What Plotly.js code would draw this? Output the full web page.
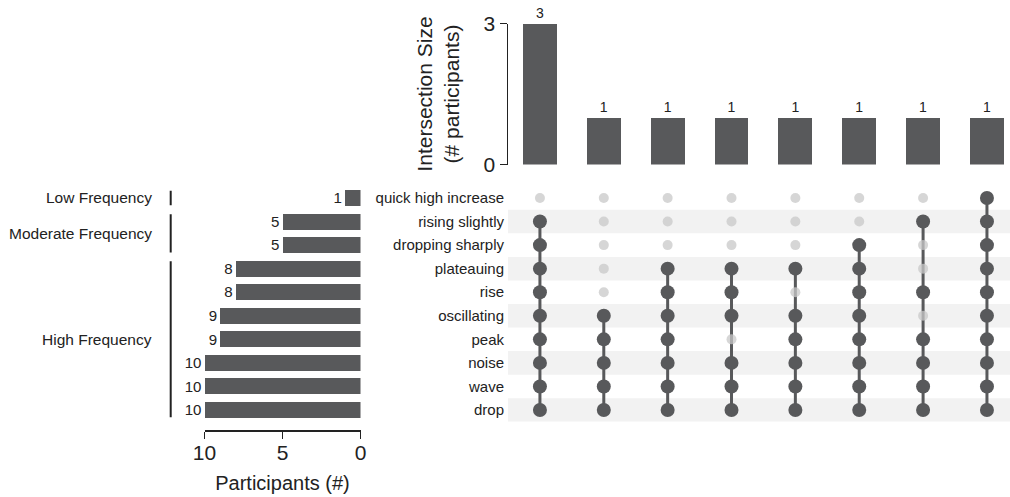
<!DOCTYPE html>
<html>
<head>
<meta charset="utf-8">
<script src="https://cdn.plot.ly/plotly-3.0.1.min.js"></script>
<style>html,body{margin:0;padding:0;background:#fff;}#chart{width:1010px;height:497px;}</style>
</head>
<body>
<div id="chart"></div>
<script>
// ---- data ----
const setNames = ['quick high increase','rising slightly','dropping sharply','plateauing','rise','oscillating','peak','noise','wave','drop'];
const setSizes = [1,5,5,8,8,9,9,10,10,10];
const intersectionSizes = [3,1,1,1,1,1,1,1];
const intersectionMembers = [
  ['rising slightly','dropping sharply','plateauing','rise','oscillating','peak','noise','wave','drop'],
  ['oscillating','peak','noise','wave','drop'],
  ['plateauing','rise','oscillating','peak','noise','wave','drop'],
  ['plateauing','rise','oscillating','noise','wave','drop'],
  ['plateauing','oscillating','peak','noise','wave','drop'],
  ['dropping sharply','plateauing','rise','oscillating','peak','noise','wave','drop'],
  ['rising slightly','rise','peak','noise','wave','drop'],
  ['quick high increase','rising slightly','dropping sharply','plateauing','rise','oscillating','peak','noise','wave','drop']
];
const groupNames = ['Low Frequency','Moderate Frequency','High Frequency'];
const groupFirst = ['quick high increase','rising slightly','plateauing'];
const groupLast = ['quick high increase','dropping sharply','drop'];

// ---- styling ----
const DARK = '#58595b';
const TXT = '#222';
const FONT = 'Liberation Sans, Arial, Helvetica, sans-serif';
const W = 1010, H = 497;
const px = v => v / W;
const py = v => (H - v) / H;

const rowIdx = setNames.map((_, i) => i);
const colIdx = intersectionSizes.map((_, i) => i);

// matrix geometry
const rowTop = 186.2, rowBottom = 421.8;
const matDomainY = [py(rowBottom), py(rowTop)];
const colLeft = 508, colStep = 63.86;
const matRangeX = [-0.5, -0.5 + (W - colLeft) / colStep];

const traces = [];

// left set-size bars
traces.push({
  type: 'bar', orientation: 'h', x: setSizes, y: rowIdx,
  xaxis: 'x', yaxis: 'y', width: 0.68,
  marker: {color: DARK},
  text: setSizes.map(String), textposition: 'outside', cliponaxis: false,
  textfont: {size: 16, color: TXT, family: FONT},
  hoverinfo: 'skip'
});

// top intersection bars
traces.push({
  type: 'bar', x: colIdx, y: intersectionSizes,
  xaxis: 'x2', yaxis: 'y2', width: 0.53,
  marker: {color: DARK},
  text: intersectionSizes.map(String), textposition: 'outside', cliponaxis: false,
  textfont: {size: 14, color: TXT, family: FONT},
  hoverinfo: 'skip'
});

// connecting lines
const lx = [], ly = [];
intersectionMembers.forEach((mem, c) => {
  const idx = mem.map(n => setNames.indexOf(n));
  const lo = Math.min(...idx), hi = Math.max(...idx);
  lx.push(c, c, null); ly.push(lo, hi, null);
});
traces.push({
  type: 'scatter', mode: 'lines', x: lx, y: ly, xaxis: 'x3', yaxis: 'y3',
  line: {color: DARK, width: 3}, hoverinfo: 'skip', connectgaps: false
});

// dots
const ix = [], iy = [], ax = [], ay = [];
intersectionMembers.forEach((mem, c) => {
  setNames.forEach((n, r) => {
    if (mem.includes(n)) { ax.push(c); ay.push(r); } else { ix.push(c); iy.push(r); }
  });
});
traces.push({
  type: 'scatter', mode: 'markers', x: ix, y: iy, xaxis: 'x3', yaxis: 'y3',
  marker: {color: 'rgba(200,200,200,0.75)', size: 10, line: {width: 0}}, hoverinfo: 'skip'
});
traces.push({
  type: 'scatter', mode: 'markers', x: ax, y: ay, xaxis: 'x3', yaxis: 'y3',
  marker: {color: DARK, size: 14, line: {width: 0}}, hoverinfo: 'skip'
});

// shapes: stripes and group brackets
const shapes = [];
rowIdx.forEach(r => {
  if (r % 2 === 1) {
    shapes.push({type: 'rect', xref: 'x3 domain', yref: 'y3', x0: 0, x1: 1, y0: r - 0.5, y1: r + 0.5,
      fillcolor: '#f2f2f2', line: {width: 0}, layer: 'below'});
  }
});
const annotations = [];
groupNames.forEach((g, i) => {
  const a = setNames.indexOf(groupFirst[i]), b = setNames.indexOf(groupLast[i]);
  shapes.push({type: 'line', xref: 'paper', yref: 'y', x0: px(170.7), x1: px(170.7), y0: a - 0.31, y1: b + 0.31,
    line: {color: TXT, width: 2}});
  annotations.push({xref: 'paper', yref: 'y', x: px(154), y: (a + b) / 2, text: g, showarrow: false,
    xanchor: 'right', yanchor: 'middle', font: {size: 15.5, color: TXT, family: FONT}});
});

const layout = {
  width: W, height: H,
  margin: {l: 0, r: 0, t: 0, b: 0},
  paper_bgcolor: '#fff', plot_bgcolor: 'rgba(0,0,0,0)',
  showlegend: false,
  font: {family: FONT, color: TXT},
  bargap: 0,
  xaxis: {
    domain: [px(204.5), px(360.5)], range: [10, 0], anchor: 'free', position: py(430),
    tickvals: [0, 5, 10], ticks: 'outside', ticklen: 7, tickwidth: 1.5, tickcolor: TXT,
    showline: true, linecolor: TXT, linewidth: 1.5, showgrid: false, zeroline: false,
    tickfont: {size: 21, family: FONT, color: TXT}, ticklabelstandoff: -4,
    title: {text: 'Participants (#)', font: {size: 20, family: FONT, color: TXT}, standoff: 13},
    fixedrange: true
  },
  yaxis: {
    domain: matDomainY, range: [9.5, -0.5], anchor: 'x', visible: false, fixedrange: true
  },
  xaxis2: {
    domain: [px(colLeft), 1], range: matRangeX, anchor: 'y2', visible: false, fixedrange: true
  },
  yaxis2: {
    domain: [py(164.5), py(23.5)], range: [0, 3], anchor: 'x2',
    tickvals: [0, 3], ticks: 'outside', ticklen: 7, tickwidth: 1.5, tickcolor: TXT,
    showline: true, linecolor: TXT, linewidth: 1.5, showgrid: false, zeroline: false,
    tickfont: {size: 21, family: FONT, color: TXT},
    title: {text: 'Intersection Size<br>(# participants)', font: {size: 21, family: FONT, color: TXT}, standoff: 18},
    fixedrange: true
  },
  xaxis3: {
    domain: [px(colLeft), 1], range: matRangeX, anchor: 'y3', visible: false, fixedrange: true
  },
  yaxis3: {
    domain: matDomainY, range: [9.5, -0.5], anchor: 'x3',
    tickvals: rowIdx, ticktext: setNames, ticks: '', showline: false, showgrid: false, zeroline: false,
    tickfont: {size: 15, family: FONT, color: TXT}, ticklabelstandoff: 3, fixedrange: true
  },
  shapes: shapes,
  annotations: annotations
};

Plotly.newPlot('chart', traces, layout, {displayModeBar: false, staticPlot: true});
</script>
</body>
</html>
